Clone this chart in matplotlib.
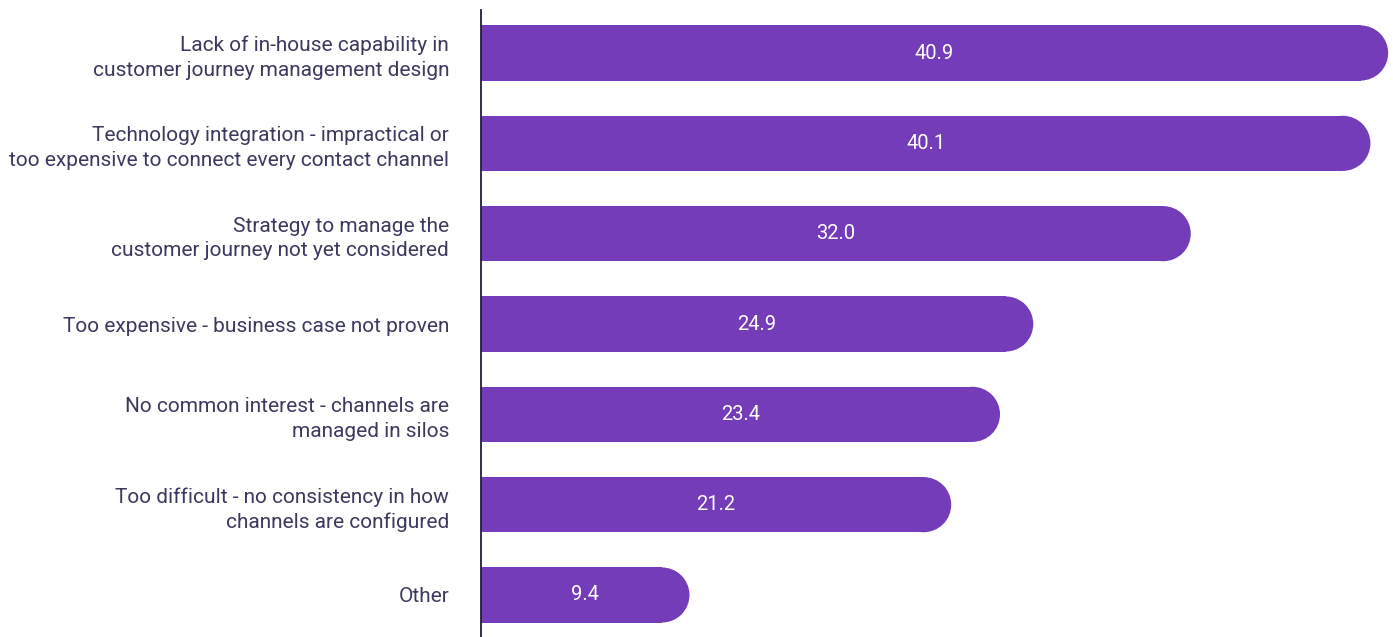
import matplotlib
matplotlib.use("Agg")
import matplotlib.pyplot as plt
from matplotlib.patches import Rectangle, Ellipse

categories = [
    "Lack of in-house capability in\ncustomer journey management design",
    "Technology integration - impractical or\ntoo expensive to connect every contact channel",
    "Strategy to manage the\ncustomer journey not yet considered",
    "Too expensive - business case not proven",
    "No common interest - channels are\nmanaged in silos",
    "Too difficult - no consistency in how\nchannels are configured",
    "Other",
]
values = [40.9, 40.1, 32.0, 24.9, 23.4, 21.2, 9.4]

BAR_COLOR = "#743cb9"
LABEL_COLOR = "#3a3a60"
AXIS_COLOR = "#1f1f3d"

W, H = 1393, 637
fig = plt.figure(figsize=(W / 100, H / 100), dpi=100)
ax_left, ax_top = 481, 10
ax = fig.add_axes([ax_left / W, 0, (W - ax_left) / W, (H - ax_top) / H])

px_per_x = 22.18
xmax = (W - ax_left) / px_per_x
px_per_y = 90.33
ytop = -(53 - ax_top) / px_per_y
ybot = 6 + (H - 595) / px_per_y
ax.set_xlim(0, xmax)
ax.set_ylim(ybot, ytop)

bar_h = 0.61
r_px = bar_h * px_per_y / 2
r_x = r_px / px_per_x

for i, (cat, v) in enumerate(zip(categories, values)):
    ax.add_patch(Rectangle((0, i - bar_h / 2), v - r_x, bar_h,
                           facecolor=BAR_COLOR, edgecolor="none", linewidth=0))
    ax.add_patch(Ellipse((v - r_x, i), 2 * r_x, bar_h,
                         facecolor=BAR_COLOR, edgecolor="none", linewidth=0))
    ax.text(v / 2, i, f"{v:.1f}", ha="center", va="center", color="white",
            fontsize=14.5, family="Roboto", fontweight="normal")

ax.set_yticks(range(len(categories)))
ax.set_yticklabels(categories, fontsize=15.0, family="Roboto", fontweight="normal",
                   color=LABEL_COLOR, linespacing=1.38)
ax.tick_params(axis="y", length=0, pad=23)
ax.set_xticks([])
for s in ["top", "right", "bottom"]:
    ax.spines[s].set_visible(False)
ax.spines["left"].set_color(AXIS_COLOR)
ax.spines["left"].set_linewidth(1.3)

fig.savefig("out.png", dpi=100)
